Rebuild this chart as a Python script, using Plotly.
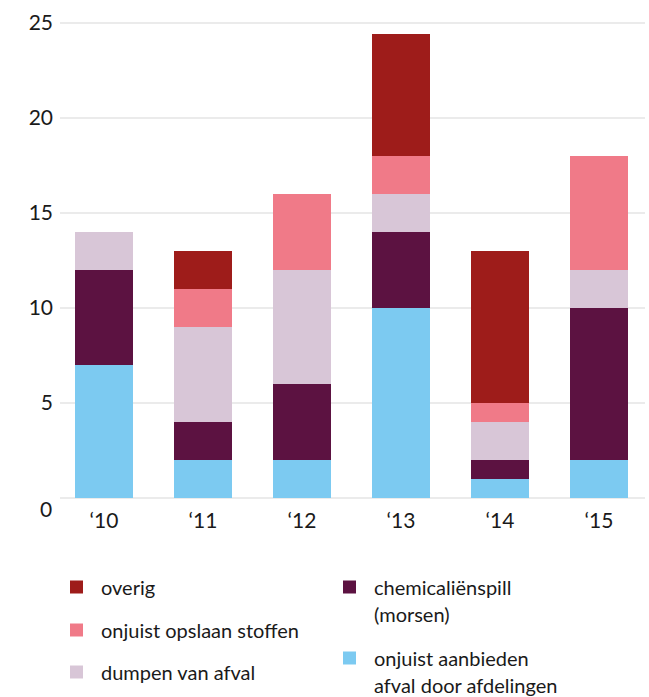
import plotly.graph_objects as go

years = ["‘10", "‘11", "‘12", "‘13", "‘14", "‘15"]

# stacked bottom to top
onjuist_aanbieden = [7, 2, 2, 10, 1, 2]
chemicalienspill = [5, 2, 4, 4, 1, 8]
dumpen = [2, 5, 6, 2, 2, 2]
onjuist_opslaan = [0, 2, 4, 2, 1, 6]
overig = [0, 2, 0, 6.4, 8, 0]

y_ticks = [5, 10, 15, 20, 25]

series = [
    ("onjuist aanbieden<br>afval door afdelingen", onjuist_aanbieden, "#7ccaf1"),
    ("chemicaliënspill<br>(morsen)", chemicalienspill, "#5c1241"),
    ("dumpen van afval", dumpen, "#d8c6d7"),
    ("onjuist opslaan stoffen", onjuist_opslaan, "#f07a88"),
    ("overig", overig, "#9e1c1a"),
]

fig = go.Figure()
for name, vals, col in series:
    fig.add_trace(go.Bar(
        x=list(range(len(years))), y=vals, name=name.replace("<br>", " "),
        marker=dict(color=col, line=dict(width=0)),
        width=0.586, showlegend=False,
    ))

FONT = "Lato, 'Open Sans', sans-serif"
TOP = 21
BOT = 498
fig.update_layout(
    barmode="stack",
    width=649, height=697,
    margin=dict(l=60, r=4, t=TOP, b=697 - BOT),
    paper_bgcolor="white", plot_bgcolor="white",
    font=dict(family=FONT, size=20, color="#1a1a1a"),
    xaxis=dict(
        tickmode="array", tickvals=list(range(len(years))), ticktext=years,
        range=[-0.444, 5.465], showgrid=False, zeroline=False, showline=False,
        ticks="", ticklabelstandoff=8, tickfont=dict(size=21, color="#1a1a1a"),
    ),
    yaxis=dict(
        range=[0, 25.1], tickvals=y_ticks,
        showgrid=True, gridcolor="#ebebeb", gridwidth=2,
        zeroline=True, zerolinecolor="#ebebeb", zerolinewidth=2,
        showline=False, ticks="",
        ticklabelstandoff=6, tickfont=dict(size=21, color="#1a1a1a"),
    ),
)

# "0" label sits a little below its gridline
fig.add_annotation(xref="paper", yref="y", x=0, y=0, xanchor="right",
                   yanchor="middle", xshift=-6, yshift=-10, text="0",
                   showarrow=False, font=dict(family=FONT, size=21, color="#1a1a1a"))

# legend (two columns) built from the series definitions
legend_layout = [
    ("overig", 70, 587),
    ("onjuist opslaan stoffen", 70, 630),
    ("dumpen van afval", 70, 672),
    ("chemicaliënspill<br>(morsen)", 343, 587),
    ("onjuist aanbieden<br>afval door afdelingen", 343, 658),
]
colmap = {n: c for n, _, c in series}


def px2paper_x(x):
    return (x - 60) / 585.0


def px2paper_y(y):
    return (BOT - y) / float(BOT - TOP)


LINE = 27
for name, px, py in legend_layout:
    col = colmap[name]
    fig.add_shape(type="rect", xref="paper", yref="paper",
                  x0=px2paper_x(px), x1=px2paper_x(px + 13),
                  y0=px2paper_y(py + 6.5), y1=px2paper_y(py - 6.5),
                  line=dict(width=0), fillcolor=col)
    for i, line in enumerate(name.split("<br>")):
        fig.add_annotation(xref="paper", yref="paper",
                           x=px2paper_x(px + 29), y=px2paper_y(py + i * LINE),
                           xanchor="left", yanchor="middle", align="left",
                           text=line, showarrow=False,
                           font=dict(family=FONT, size=20, color="#1a1a1a"))

fig.write_html("out.html", config={"displayModeBar": False},
               post_script="document.body.style.margin='0';")
